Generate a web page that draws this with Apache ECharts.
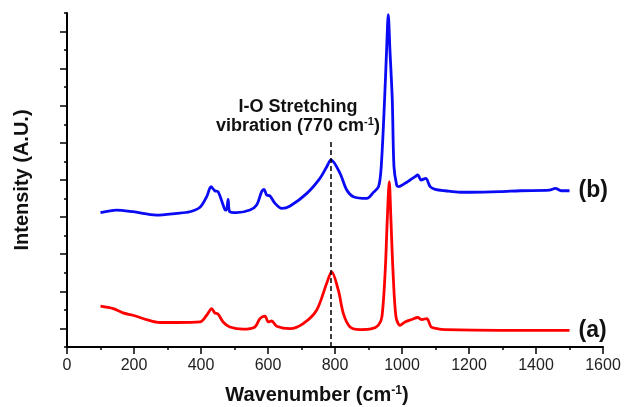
<!DOCTYPE html>
<html>
<head>
<meta charset="utf-8">
<script src="https://cdn.jsdelivr.net/npm/echarts@6/dist/echarts.min.js"></script>
<style>
  html, body { margin: 0; padding: 0; background: #fff; }
  #chart { width: 627px; height: 407px; }
</style>
</head>
<body>
<div id="chart"></div>
<script>
// spectrum (b), blue
var blueX = [100, 148, 197, 267, 327, 367, 397, 417, 430, 441, 451, 471, 476, 481, 486, 506, 546, 566, 581, 588, 596, 606, 621, 641, 666, 716, 755, 775, 788, 815, 835, 855, 895, 914, 930, 938, 948, 954, 959, 964, 971, 976, 984, 989, 1009, 1024, 1039, 1047, 1057, 1071, 1084, 1099, 1129, 1174, 1204, 1293, 1353, 1440, 1458, 1475, 1500]
var blueY = [7.24, 7.38, 7.29, 7.11, 7.2, 7.29, 7.53, 8.1, 8.64, 8.42, 8.37, 7.42, 7.38, 7.96, 7.29, 7.24, 7.38, 7.65, 8.37, 8.5, 8.19, 8.14, 7.74, 7.47, 7.6, 8.28, 9.09, 9.7, 10.08, 9.36, 8.46, 8.1, 8.01, 8.32, 8.64, 9.72, 13.32, 16.0, 17.91, 16.0, 13.32, 9.72, 8.73, 8.64, 8.82, 9.0, 9.18, 9.27, 9.0, 9.09, 8.64, 8.5, 8.42, 8.34, 8.34, 8.37, 8.42, 8.45, 8.55, 8.42, 8.42]
// spectrum (a), red
var redX = [100, 138, 167, 197, 237, 277, 327, 397, 417, 432, 441, 451, 466, 486, 526, 561, 576, 591, 601, 611, 626, 666, 705, 745, 775, 790, 810, 825, 845, 875, 910, 929, 940, 950, 956, 962, 967, 973, 982, 994, 1009, 1029, 1047, 1059, 1074, 1087, 1104, 1129, 1293, 1500]
var redY = [2.2, 2.07, 1.84, 1.71, 1.48, 1.32, 1.32, 1.35, 1.71, 2.07, 1.84, 1.77, 1.35, 1.08, 0.96, 1.08, 1.53, 1.66, 1.35, 1.4, 1.12, 0.99, 1.26, 1.98, 3.42, 4.05, 3.06, 1.8, 1.08, 0.94, 0.99, 1.17, 1.62, 4.14, 6.84, 8.91, 6.84, 4.14, 1.62, 1.17, 1.35, 1.48, 1.59, 1.48, 1.53, 1.08, 0.99, 0.94, 0.9, 0.9]
var xTicks = [0, 1600]
var peakX = 788
var peakTop = 11.1

function pairs(xs, ys) {
  var out = []
  for (var i = 0; i < xs.length; i++) out.push([xs[i], ys[i]])
  return out
}

var font = '"Liberation Sans", Arial, sans-serif'
var chart = echarts.init(document.getElementById('chart'))

var option = {
  animation: false,
  grid: { left: 67, right: 24, top: 13, bottom: 60, outerBoundsMode: 'none' },
  xAxis: {
    type: 'value',
    min: xTicks[0],
    max: xTicks[1],
    interval: 200,
    name: 'Wavenumber (cm{sup|-1})',
    nameLocation: 'middle',
    nameGap: 38,
    nameTextStyle: {
      fontFamily: font, fontSize: 20, fontWeight: 'bold', color: '#111',
      padding: [0, 36, 0, 0],
      rich: { sup: { fontFamily: font, fontSize: 12, fontWeight: 'bold', color: '#111', verticalAlign: 'top', padding: [0, 0, 9, 0] } }
    },
    axisLine: { lineStyle: { color: '#000', width: 2 } },
    axisTick: { length: 7, lineStyle: { color: '#000', width: 1.5 } },
    minorTick: { show: true, splitNumber: 2, length: 3, lineStyle: { color: '#000', width: 1.5 } },
    axisLabel: {
      fontFamily: font, fontSize: 16, color: '#222', margin: 11,
      formatter: function (v) { return String(v) }
    },
    splitLine: { show: false }
  },
  yAxis: {
    type: 'value',
    min: 0,
    max: 18,
    interval: 2,
    name: 'Intensity (A.U.)',
    nameLocation: 'middle',
    nameGap: 35,
    nameTextStyle: { fontFamily: font, fontSize: 20, fontWeight: 'bold', color: '#111' },
    axisLine: { show: true, lineStyle: { color: '#000', width: 2 } },
    axisTick: { show: true, length: 3, lineStyle: { color: '#000', width: 1.5 } },
    minorTick: { show: true, splitNumber: 2, length: 7, lineStyle: { color: '#000', width: 1.5 } },
    axisLabel: { show: false },
    splitLine: { show: false }
  },
  series: [
    {
      name: '(b)',
      type: 'line',
      data: pairs(blueX, blueY),
      showSymbol: false,
      smooth: 0.3,
      lineStyle: { color: '#0a0af5', width: 2.8 },
      endLabel: {
        show: true, formatter: '(b)', distance: 9,
        fontFamily: font, fontSize: 23, fontWeight: 'bold', color: '#111'
      },
      markLine: {
        silent: true,
        symbol: ['none', 'none'],
        lineStyle: { color: '#000', type: [5, 3], width: 1.5 },
        label: {
          show: true,
          position: 'end',
          distance: 6,
          offset: [-33, 0],
          formatter: 'I-O Stretching\nvibration (770 cm{sup|-1})',
          fontFamily: font, fontSize: 18, fontWeight: 'bold', color: '#111',
          lineHeight: 19, align: 'center',
          rich: { sup: { fontFamily: font, fontSize: 11, fontWeight: 'bold', color: '#111', verticalAlign: 'top', padding: [0, 0, 8, 0] } }
        },
        data: [[{ coord: [peakX, 0] }, { coord: [peakX, peakTop] }]]
      }
    },
    {
      name: '(a)',
      type: 'line',
      data: pairs(redX, redY),
      showSymbol: false,
      smooth: 0.3,
      lineStyle: { color: '#ff0000', width: 2.8 },
      endLabel: {
        show: true, formatter: '(a)', distance: 9,
        fontFamily: font, fontSize: 23, fontWeight: 'bold', color: '#111'
      }
    }
  ]
}
chart.setOption(option)
</script>
</body>
</html>
